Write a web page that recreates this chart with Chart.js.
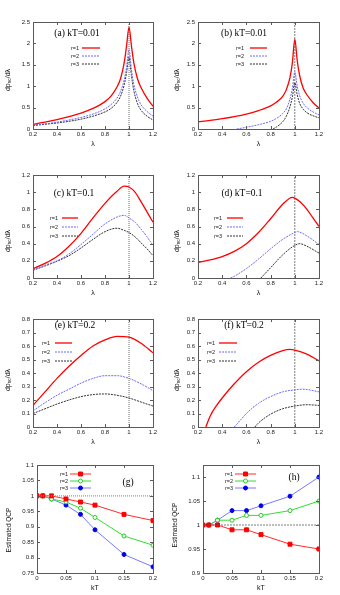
<!DOCTYPE html>
<html>
<head>
<meta charset="utf-8">
<script src="https://cdn.jsdelivr.net/npm/chart.js@4.4.1/dist/chart.umd.min.js"></script>
<style>
  html, body { margin: 0; padding: 0; background: #fff; }
  #fig { position: relative; width: 340px; height: 595px; overflow: hidden; }
  #fig canvas { position: absolute; }
</style>
</head>
<body>
<div id="fig"></div>
<script>
// ---- values ----
const criticalLambda = 1;
const qcpLine = 1;

// (a) kT=0.01
const lamA = [0.2, 0.3, 0.4, 0.5, 0.6, 0.7, 0.8, 0.85, 0.9, 0.93, 0.96, 0.98, 1.0, 1.02, 1.04, 1.07, 1.1, 1.15, 1.2];
const dpA1 = [0.11, 0.16, 0.22, 0.29, 0.37, 0.48, 0.64, 0.77, 0.98, 1.18, 1.55, 1.95, 2.38, 1.95, 1.55, 1.18, 0.97, 0.72, 0.53];
const dpA2 = [0.09, 0.12, 0.16, 0.21, 0.27, 0.35, 0.47, 0.57, 0.72, 0.88, 1.15, 1.45, 1.86, 1.40, 1.05, 0.75, 0.57, 0.41, 0.30];
const dpA3 = [0.08, 0.11, 0.14, 0.18, 0.23, 0.30, 0.40, 0.48, 0.62, 0.77, 1.03, 1.32, 1.68, 1.25, 0.90, 0.60, 0.44, 0.30, 0.21];

// (b) kT=0.01
const lamB1 = [0.2, 0.3, 0.4, 0.5, 0.6, 0.7, 0.8, 0.85, 0.9, 0.93, 0.96, 0.98, 1.0, 1.02, 1.04, 1.07, 1.1, 1.15, 1.2];
const dpB1 = [0.17, 0.20, 0.24, 0.29, 0.35, 0.43, 0.54, 0.63, 0.76, 0.92, 1.20, 1.55, 2.10, 1.60, 1.25, 0.95, 0.80, 0.62, 0.49];
const lamB2 = [0.52, 0.6, 0.7, 0.8, 0.85, 0.9, 0.93, 0.96, 0.98, 1.0, 1.02, 1.04, 1.07, 1.1, 1.15, 1.2];
const dpB2 = [0, 0.04, 0.10, 0.18, 0.25, 0.36, 0.47, 0.70, 0.95, 1.33, 1.00, 0.78, 0.60, 0.50, 0.40, 0.33];
const lamB3 = [0.82, 0.85, 0.9, 0.93, 0.96, 0.98, 1.0, 1.02, 1.04, 1.07, 1.1, 1.15, 1.2];
const dpB3 = [0, 0.05, 0.17, 0.30, 0.52, 0.75, 1.08, 0.80, 0.60, 0.46, 0.38, 0.31, 0.26];

// (c) kT=0.1
const lamC = [0.2, 0.3, 0.4, 0.5, 0.6, 0.7, 0.8, 0.9, 0.96, 1.0, 1.05, 1.1, 1.15, 1.2];
const dpC1 = [0.11, 0.17, 0.25, 0.37, 0.52, 0.70, 0.87, 1.01, 1.07, 1.06, 1.00, 0.89, 0.77, 0.65];
const dpC2 = [0.10, 0.15, 0.20, 0.28, 0.39, 0.51, 0.63, 0.71, 0.73, 0.70, 0.65, 0.57, 0.48, 0.38];
const dpC3 = [0.09, 0.14, 0.195, 0.26, 0.35, 0.45, 0.54, 0.58, 0.555, 0.53, 0.48, 0.41, 0.34, 0.26];

// (d) kT=0.1
const lamD1 = [0.2, 0.3, 0.4, 0.5, 0.6, 0.7, 0.8, 0.9, 0.98, 1.0, 1.05, 1.1, 1.15, 1.2];
const dpD1 = [0.18, 0.21, 0.25, 0.31, 0.40, 0.53, 0.69, 0.86, 0.94, 0.93, 0.88, 0.80, 0.70, 0.60];
const lamD2 = [0.47, 0.5, 0.6, 0.7, 0.8, 0.9, 1.0, 1.02, 1.1, 1.2];
const dpD2 = [0, 0.02, 0.11, 0.22, 0.34, 0.45, 0.53, 0.54, 0.49, 0.39];
const lamD3 = [0.72, 0.8, 0.9, 1.0, 1.04, 1.1, 1.2];
const dpD3 = [0, 0.12, 0.27, 0.38, 0.40, 0.37, 0.29];

// (e) kT=0.2
const lamE = [0.2, 0.3, 0.4, 0.5, 0.6, 0.7, 0.8, 0.9, 1.0, 1.1, 1.2];
const dpE1 = [0.16, 0.26, 0.36, 0.45, 0.53, 0.60, 0.645, 0.672, 0.665, 0.62, 0.55];
const dpE2 = [0.12, 0.18, 0.235, 0.28, 0.325, 0.36, 0.38, 0.38, 0.36, 0.32, 0.27];
const dpE3 = [0.10, 0.135, 0.17, 0.20, 0.225, 0.24, 0.245, 0.235, 0.215, 0.185, 0.155];

// (f) kT=0.2
const lamF1 = [0.265, 0.3, 0.35, 0.4, 0.5, 0.6, 0.7, 0.8, 0.9, 0.96, 1.0, 1.1, 1.2];
const dpF1 = [0, 0.08, 0.155, 0.215, 0.32, 0.41, 0.48, 0.53, 0.565, 0.575, 0.57, 0.54, 0.49];
const lamF2 = [0.5, 0.55, 0.6, 0.7, 0.8, 0.9, 1.0, 1.06, 1.1, 1.2];
const dpF2 = [0, 0.05, 0.10, 0.175, 0.225, 0.26, 0.275, 0.28, 0.278, 0.26];
const lamF3 = [0.67, 0.7, 0.8, 0.9, 1.0, 1.1, 1.2];
const dpF3 = [0, 0.03, 0.095, 0.135, 0.155, 0.165, 0.16];

// (g), (h) estimated QCP vs kT
const kT = [0, 0.01, 0.025, 0.05, 0.075, 0.1, 0.15, 0.2];
const qcpG1 = [1, 1, 1, 0.99, 0.98, 0.97, 0.94, 0.92];
const qcpG2 = [1, 1, 0.99, 0.98, 0.96, 0.93, 0.87, 0.84];
const qcpG3 = [1, 1, 0.99, 0.97, 0.94, 0.89, 0.81, 0.77];
const qcpH1 = [1, 1, 1, 0.99, 0.99, 0.98, 0.96, 0.95];
const qcpH2 = [1, 1, 1.01, 1.01, 1.02, 1.02, 1.03, 1.05];
const qcpH3 = [1, 1, 1.01, 1.03, 1.03, 1.04, 1.06, 1.10];

const seriesNames = ['r=1', 'r=2', 'r=3'];

// tick labels
const lamTicks = [0.2, 0.4, 0.6, 0.8, 1, 1.2];
const kTTicks = [0, 0.05, 0.1, 0.15, 0.2];
const ticksAB = [0, 0.5, 1, 1.5, 2, 2.5];
const ticksCD = [0, 0.2, 0.4, 0.6, 0.8, 1, 1.2];
const ticksEF = [0, 0.1, 0.2, 0.3, 0.4, 0.5, 0.6, 0.7, 0.8];
const ticksG = [0.75, 0.8, 0.85, 0.9, 0.95, 1, 1.05, 1.1];
const ticksH = [0.9, 0.95, 1, 1.05, 1.1];

// ---- styles ----
const SANS = "'Liberation Sans', Arial, Helvetica, sans-serif";
const SERIF = "'Liberation Serif', 'Times New Roman', serif";
const RED = '#ff0000', BLUE = '#6a6aff', BLACK = '#1a1a1a';

const pts = (xs, ys) => xs.map((x, i) => ({ x: x, y: ys[i] }));

function curve(xs, ys, k) {
  const st = [
    { borderColor: RED, borderWidth: 1.3, borderDash: [] },
    { borderColor: BLUE, borderWidth: 1, borderDash: [2, 1] },
    { borderColor: BLACK, borderWidth: 0.9, borderDash: [2, 1] }
  ][k];
  return Object.assign({
    label: seriesNames[k], data: pts(xs, ys), pointRadius: 0,
    tension: 0.4, cubicInterpolationMode: 'monotone', fill: false
  }, st);
}

function marked(xs, ys, k) {
  const st = [
    { borderColor: '#ff2a2a', pointBackgroundColor: '#ff0000', pointBorderColor: '#ff0000', pointStyle: 'rect', pointRadius: 2.8 },
    { borderColor: '#33dd33', pointBackgroundColor: '#ffffff', pointBorderColor: '#22cc22', pointStyle: 'circle', pointRadius: 2, pointBorderWidth: 1 },
    { borderColor: '#7878ff', pointBackgroundColor: '#0000ee', pointBorderColor: '#0000ee', pointStyle: 'circle', pointRadius: 2 }
  ][k];
  return Object.assign({
    label: seriesNames[k], data: pts(xs, ys), borderWidth: 1, tension: 0, fill: false
  }, st);
}

function vref(yMax, strong) {
  return {
    ref: true, data: [{ x: criticalLambda, y: 0 }, { x: criticalLambda, y: yMax }],
    borderColor: strong ? '#9a9a9a' : '#444', borderWidth: strong ? 1.4 : 0.7,
    borderDash: strong ? [1, 1] : [2, 1], pointRadius: 0, tension: 0
  };
}
function href(x0, x1, strong) {
  return {
    ref: true, data: [{ x: x0, y: qcpLine }, { x: x1, y: qcpLine }],
    borderColor: strong ? '#9a9a9a' : '#444', borderWidth: strong ? 1.4 : 0.7,
    borderDash: strong ? [1, 1] : [2, 1], pointRadius: 0, tension: 0
  };
}

const fmt = v => String(Number(v.toFixed(3)));

// decorations: frame, inner ticks, panel label, legend, axis titles
const deco = {
  id: 'deco',
  afterDatasetsDraw(chart, args, o) {
    const { ctx, chartArea: a, scales: { x, y } } = chart;
    const ox = o.cx, oy = o.cy;
    ctx.save();
    ctx.strokeStyle = '#5a5a5a';
    ctx.lineWidth = 1;
    ctx.setLineDash([]);
    ctx.strokeRect(Math.round(a.left) + 0.5, Math.round(a.top) + 0.5,
      Math.round(a.right - a.left), Math.round(a.bottom - a.top));
    ctx.beginPath();
    o.xTicks.forEach(v => {
      const px = Math.round(x.getPixelForValue(v)) + 0.5;
      ctx.moveTo(px, a.bottom); ctx.lineTo(px, a.bottom - 3);
      ctx.moveTo(px, a.top); ctx.lineTo(px, a.top + 3);
    });
    o.yTicks.forEach(v => {
      const py = Math.round(y.getPixelForValue(v)) + 0.5;
      ctx.moveTo(a.left, py); ctx.lineTo(a.left + 3, py);
      ctx.moveTo(a.right, py); ctx.lineTo(a.right - 3, py);
    });
    ctx.stroke();

    // panel label
    ctx.fillStyle = '#000';
    ctx.font = '9.5px ' + SERIF;
    ctx.textAlign = 'center';
    ctx.textBaseline = 'middle';
    ctx.fillText(o.label, o.labelX - ox, o.labelY - oy);

    // legend
    ctx.font = '5.5px ' + SANS;
    ctx.textAlign = 'right';
    chart.data.datasets.filter(d => !d.ref).forEach((d, i) => {
      const ly = o.legY[i] - oy;
      ctx.fillStyle = '#222';
      ctx.fillText(d.label, o.legTextR - ox, ly);
      ctx.strokeStyle = d.borderColor;
      ctx.lineWidth = d.borderWidth;
      ctx.setLineDash(d.borderDash || []);
      ctx.beginPath();
      ctx.moveTo(o.legX1 - ox, ly); ctx.lineTo(o.legX2 - ox, ly);
      ctx.stroke();
      ctx.setLineDash([]);
      if (d.pointStyle) {
        ctx.fillStyle = d.pointBackgroundColor;
        ctx.strokeStyle = d.pointBorderColor;
        ctx.lineWidth = d.pointBorderWidth || 1;
        Chart.helpers.drawPoint(ctx, { pointStyle: d.pointStyle, radius: d.pointRadius, rotation: 0, borderWidth: 1 },
          (o.legX1 + o.legX2) / 2 - ox, ly);
      }
    });

    // x title
    ctx.fillStyle = '#111';
    ctx.font = '7px ' + SANS;
    ctx.textAlign = 'center';
    ctx.fillText(o.xTitle, (a.left + a.right) / 2, a.bottom + 15);

    // y title (rotated)
    ctx.translate(o.yTitleX - ox, o.yTitleY - oy);
    ctx.rotate(-Math.PI / 2);
    ctx.textAlign = 'left';
    if (o.yTitle === 'dp') {
      const big = '7px ' + SANS, small = '5px ' + SANS;
      ctx.font = big; const w1 = ctx.measureText('dp').width, w3 = ctx.measureText('/dλ').width;
      ctx.font = small; const w2 = ctx.measureText('sc').width;
      let xx = -(w1 + w2 + w3) / 2;
      ctx.font = big; ctx.fillText('dp', xx, 0); xx += w1;
      ctx.font = small; ctx.fillText('sc', xx, 2); xx += w2;
      ctx.font = big; ctx.fillText('/dλ', xx, 0);
    } else {
      ctx.font = '6.5px ' + SANS;
      ctx.textAlign = 'center';
      ctx.fillText(o.yTitle, 0, 0);
    }
    ctx.restore();
  }
};

function makePanel(p) {
  const c = document.createElement('canvas');
  c.width = p.w; c.height = p.h;
  c.style.left = p.cx + 'px'; c.style.top = p.cy + 'px';
  c.style.width = p.w + 'px'; c.style.height = p.h + 'px';
  document.getElementById('fig').appendChild(c);
  const tickFont = { family: SANS, size: 6 };
  new Chart(c, {
    type: 'line',
    data: { datasets: p.datasets },
    options: {
      responsive: false, animation: false, devicePixelRatio: 1,
      layout: { padding: { left: 0, top: p.T - p.cy, right: p.cx + p.w - p.R, bottom: 0 } },
      scales: {
        x: {
          type: 'linear', min: p.xMin, max: p.xMax,
          grid: { display: false, drawTicks: false }, border: { display: false },
          afterFit: s => { s.height = p.cy + p.h - p.B; },
          afterBuildTicks: s => { s.ticks = p.xTicks.map(v => ({ value: v })); },
          ticks: { font: tickFont, color: '#222', padding: 1.5, maxRotation: 0, autoSkip: false, callback: v => fmt(v) }
        },
        y: {
          type: 'linear', min: p.yMin, max: p.yMax,
          grid: { display: false, drawTicks: false }, border: { display: false },
          afterFit: s => { s.width = p.L - p.cx; },
          afterBuildTicks: s => { s.ticks = p.yTicks.map(v => ({ value: v })); },
          ticks: { font: tickFont, color: '#222', padding: 3, autoSkip: false, callback: v => fmt(v) }
        }
      },
      plugins: {
        legend: { display: false }, tooltip: { enabled: false },
        deco: p
      }
    },
    plugins: [deco]
  });
}

const lamPanel = { xMin: 0.2, xMax: 1.2, xTicks: lamTicks, xTitle: 'λ', yTitle: 'dp' };

makePanel(Object.assign({}, lamPanel, {
  cx: 0, cy: 0, w: 170, h: 150, L: 33, R: 153, T: 22, B: 129,
  yMin: 0, yMax: 2.5, yTicks: ticksAB,
  label: '(a) kT=0.01', labelX: 77, labelY: 33,
  legTextR: 79, legX1: 82, legX2: 100, legY: [48, 56, 64],
  yTitleX: 8, yTitleY: 80,
  datasets: [curve(lamA, dpA1, 0), curve(lamA, dpA2, 1), curve(lamA, dpA3, 2), vref(2.5, true)]
}));
makePanel(Object.assign({}, lamPanel, {
  cx: 170, cy: 0, w: 170, h: 150, L: 198, R: 319, T: 22, B: 129,
  yMin: 0, yMax: 2.5, yTicks: ticksAB,
  label: '(b) kT=0.01', labelX: 244, labelY: 33,
  legTextR: 244, legX1: 250, legX2: 267, legY: [48, 56, 64],
  yTitleX: 177, yTitleY: 80,
  datasets: [curve(lamB1, dpB1, 0), curve(lamB2, dpB2, 1), curve(lamB3, dpB3, 2), vref(2.5, false)]
}));
makePanel(Object.assign({}, lamPanel, {
  cx: 0, cy: 150, w: 170, h: 150, L: 33, R: 153, T: 175, B: 278,
  yMin: 0, yMax: 1.2, yTicks: ticksCD,
  label: '(c) kT=0.1', labelX: 74, labelY: 193,
  legTextR: 58, legX1: 62, legX2: 78, legY: [218, 227, 236],
  yTitleX: 8, yTitleY: 241,
  datasets: [curve(lamC, dpC1, 0), curve(lamC, dpC2, 1), curve(lamC, dpC3, 2), vref(1.2, true)]
}));
makePanel(Object.assign({}, lamPanel, {
  cx: 170, cy: 150, w: 170, h: 150, L: 198, R: 319, T: 175, B: 278,
  yMin: 0, yMax: 1.2, yTicks: ticksCD,
  label: '(d) kT=0.1', labelX: 242, labelY: 193,
  legTextR: 222, legX1: 227, legX2: 243, legY: [218, 227, 236],
  yTitleX: 177, yTitleY: 241,
  datasets: [curve(lamD1, dpD1, 0), curve(lamD2, dpD2, 1), curve(lamD3, dpD3, 2), vref(1.2, false)]
}));
makePanel(Object.assign({}, lamPanel, {
  cx: 0, cy: 300, w: 170, h: 150, L: 33, R: 153, T: 319, B: 427,
  yMin: 0, yMax: 0.8, yTicks: ticksEF,
  label: '(e) kT=0.2', labelX: 75, labelY: 325,
  legTextR: 50, legX1: 55, legX2: 72, legY: [343, 352, 361],
  yTitleX: 8, yTitleY: 380,
  datasets: [curve(lamE, dpE1, 0), curve(lamE, dpE2, 1), curve(lamE, dpE3, 2), vref(0.8, true)]
}));
makePanel(Object.assign({}, lamPanel, {
  cx: 170, cy: 300, w: 170, h: 150, L: 198, R: 319, T: 319, B: 427,
  yMin: 0, yMax: 0.8, yTicks: ticksEF,
  label: '(f) kT=0.2', labelX: 244, labelY: 325,
  legTextR: 215, legX1: 219, legX2: 237, legY: [343, 352, 361],
  yTitleX: 177, yTitleY: 380,
  datasets: [curve(lamF1, dpF1, 0), curve(lamF2, dpF2, 1), curve(lamF3, dpF3, 2), vref(0.8, false)]
}));
makePanel({
  cx: 0, cy: 450, w: 170, h: 145, L: 37, R: 153, T: 465, B: 573,
  xMin: 0, xMax: 0.2, xTicks: kTTicks, xTitle: 'kT',
  yMin: 0.75, yMax: 1.1, yTicks: ticksG, yTitle: 'Estimated QCP',
  label: '(g)', labelX: 128, labelY: 482,
  legTextR: 68, legX1: 70, legX2: 91, legY: [474, 481, 488],
  yTitleX: 9, yTitleY: 530,
  datasets: [href(0, 0.2, true), marked(kT, qcpG1, 0), marked(kT, qcpG2, 1), marked(kT, qcpG3, 2)]
});
makePanel({
  cx: 170, cy: 450, w: 170, h: 145, L: 203, R: 319, T: 465, B: 573,
  xMin: 0, xMax: 0.2, xTicks: kTTicks, xTitle: 'kT',
  yMin: 0.9, yMax: 1.125, yTicks: ticksH, yTitle: 'Estimated QCP',
  label: '(h)', labelX: 294, labelY: 477,
  legTextR: 233, legX1: 235, legX2: 256, legY: [474, 481, 488],
  yTitleX: 175, yTitleY: 525,
  datasets: [href(0, 0.2, false), marked(kT, qcpH1, 0), marked(kT, qcpH2, 1), marked(kT, qcpH3, 2)]
});
</script>
</body>
</html>
